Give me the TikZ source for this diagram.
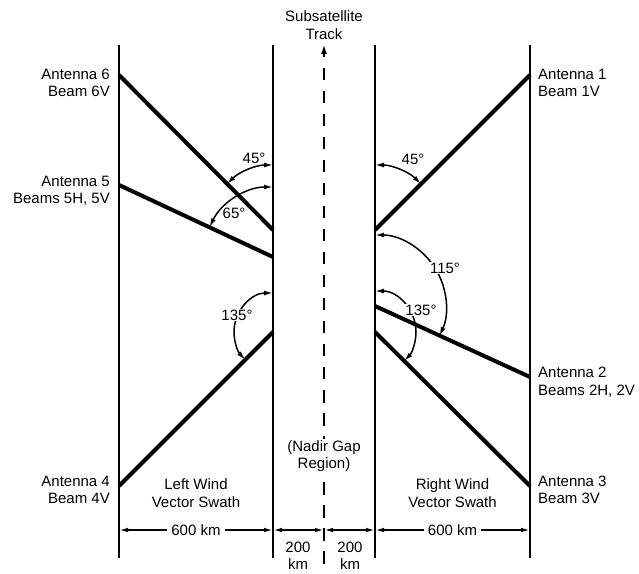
\documentclass[tikz,border=0pt]{standalone}
\usepackage{fontspec}
\setmainfont{Liberation Sans}
\usetikzlibrary{arrows.meta}
\tikzset{
  lbl/.style={font=\fontsize{15}{17.5}\selectfont, inner sep=1pt, align=center},
  lblw/.style={lbl, fill=white},
  edge/.style={line width=2pt},
  beam/.style={line width=4pt},
  anglemark/.style={line width=1.5pt, {Latex[length=9pt,width=5pt]}-{Latex[length=9pt,width=5pt]}},
  dimline/.style={line width=1.5pt, {Latex[length=9pt,width=4.5pt]}-{Latex[length=9pt,width=4.5pt]}},
  track/.style={line width=2pt, dash pattern=on 12.5pt off 10.5pt},
}
\begin{document}
\begin{tikzpicture}[x=1pt,y=1pt]
\useasboundingbox (0,0) rectangle (639,573);

% swath boundaries
\coordinate (L0t) at (119,528); \coordinate (L0b) at (119,15);
\coordinate (L1t) at (273,528); \coordinate (L1b) at (273,15);
\coordinate (R1t) at (375,528); \coordinate (R1b) at (375,15);
\coordinate (R0t) at (530,528); \coordinate (R0b) at (530,15);
\draw[edge] (L0t) -- (L0b);
\draw[edge] (L1t) -- (L1b);
\draw[edge] (R1t) -- (R1b);
\draw[edge] (R0t) -- (R0b);

% subsatellite track
\coordinate (trkTop) at (324,529);
\coordinate (trkHead) at (324,516);
\coordinate (trkDash) at (324,505);
\coordinate (trkBot) at (324,6);
\draw[line width=2pt, -{Latex[length=10pt,width=6pt]}] (trkHead) -- (trkTop);
\draw[track] (trkDash) -- (trkBot);

% antenna beams
\coordinate (a6o) at (119,498); \coordinate (a6i) at (273,343);
\coordinate (a5o) at (119,388); \coordinate (a5i) at (273,316);
\coordinate (a4o) at (119,87);  \coordinate (a4i) at (273,241);
\coordinate (a1o) at (530,498); \coordinate (a1i) at (375,343);
\coordinate (a2o) at (530,196); \coordinate (a2i) at (375,267);
\coordinate (a3o) at (530,87);  \coordinate (a3i) at (375,241);
\draw[beam] (a6o) -- (a6i);
\draw[beam] (a5o) -- (a5i);
\draw[beam] (a4o) -- (a4i);
\draw[beam] (a1o) -- (a1i);
\draw[beam] (a2o) -- (a2i);
\draw[beam] (a3o) -- (a3i);

% azimuth angle marks
\draw[anglemark] ([shift={(90:65)}]a6i) arc[start angle=90, end angle=135, radius=65];
\draw[anglemark] ([shift={(90:70)}]a5i) arc[start angle=90, end angle=155, radius=70];
\draw[anglemark] ([shift={(90:39)}]a4i) arc[start angle=90, end angle=225, radius=39];
\draw[anglemark] ([shift={(90:65)}]a1i) arc[start angle=90, end angle=45, radius=65];
\draw[anglemark] ([shift={(90:71)}]a2i) arc[start angle=90, end angle=-25, radius=71];
\draw[anglemark] ([shift={(90:41)}]a3i) arc[start angle=90, end angle=-45, radius=41];

\node[lbl]  (ang6) at (254,415) {45°};
\node[lbl]  (ang5) at (234,360) {65°};
\node[lblw] (ang4) at (237,258) {135°};
\node[lbl]  (ang1) at (413,414) {45°};
\node[lblw] (ang2) at (445,305) {115°};
\node[lblw] (ang3) at (421,263) {135°};

% swath widths
\coordinate (dL0) at (119,43);
\coordinate (dL1) at (273,43);
\coordinate (dC)  at (324,43);
\coordinate (dR1) at (375,43);
\coordinate (dR0) at (530,43);
\draw[dimline] (dL0) -- (dL1);
\draw[dimline] (dL1) -- (dC);
\draw[dimline] (dC) -- (dR1);
\draw[dimline] (dR1) -- (dR0);
\node[lblw, inner xsep=4pt] (wL) at (196,43) {600 km};
\node[lblw, inner xsep=4pt] (wR) at (452.5,43) {600 km};
\node[lbl] (gL) at (298,17) {200\\km};
\node[lbl] (gR) at (350,17) {200\\km};

% region and antenna labels
\node[lbl] (title) at (324,548) {Subsatellite\\Track};
\node[lblw] (nadir) at (324,117) {(Nadir Gap\\Region)};
\node[lbl] (swL) at (196,80) {Left Wind\\Vector Swath};
\node[lbl] (swR) at (452.5,80) {Right Wind\\Vector Swath};

\node[lbl, align=right, anchor=east] (ant6) at (111,490) {Antenna 6\\Beam 6V};
\node[lbl, align=right, anchor=east] (ant5) at (111,382) {Antenna 5\\Beams 5H, 5V};
\node[lbl, align=right, anchor=east] (ant4) at (111,83) {Antenna 4\\Beam 4V};
\node[lbl, align=left, anchor=west] (ant1) at (537,490) {Antenna 1\\Beam 1V};
\node[lbl, align=left, anchor=west] (ant2) at (537,191) {Antenna 2\\Beams 2H, 2V};
\node[lbl, align=left, anchor=west] (ant3) at (537,83) {Antenna 3\\Beam 3V};
\end{tikzpicture}
\end{document}
